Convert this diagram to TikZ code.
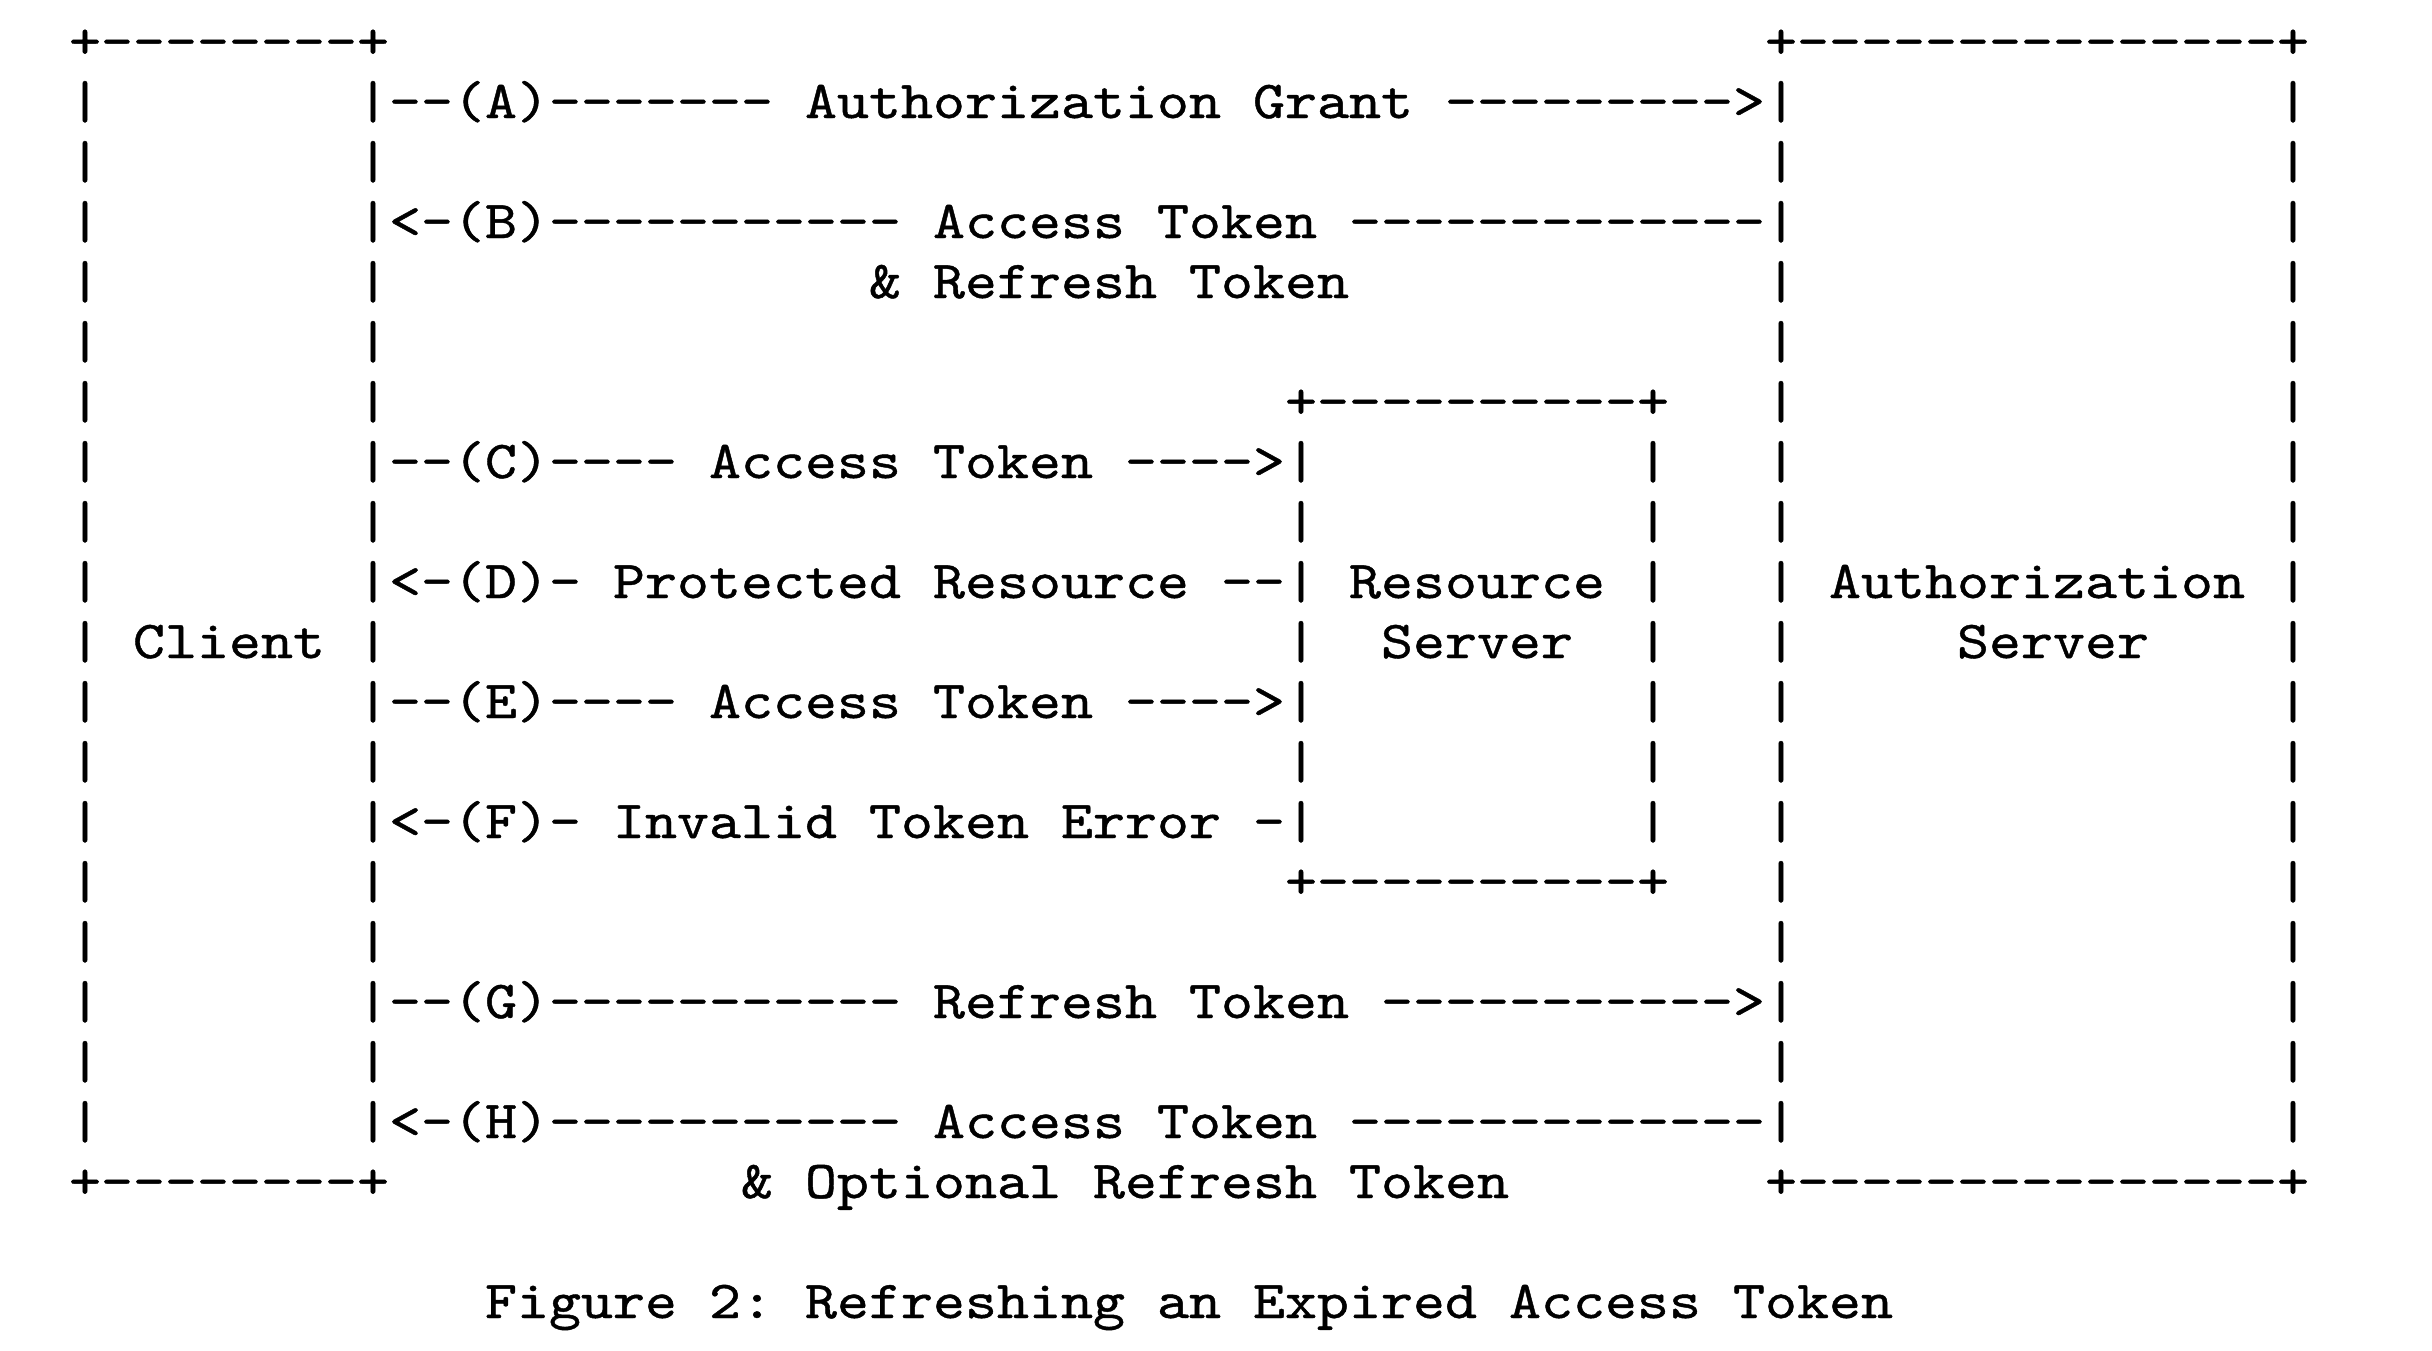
\documentclass[tikz,border=0pt]{standalone}
\usepackage{fontspec}
\newfontfamily\asciifont{lmmono10-regular.otf}[FakeStretch=1.1429,FakeBold=0.8,Ligatures=TeXOff]
\tikzset{ascii/.style={anchor=base west,inner sep=0pt,outer sep=0pt,
  font=\asciifont\fontsize{13.333pt}{15pt}\selectfont\frenchspacing,text=black}}
\newcommand\asc[4]{\node[ascii] (#1) at ({17.25pt+8pt*(#2)},{-14.5pt-15pt*(#3)}) {#4};}
\begin{document}
\begin{tikzpicture}
\fill[white] (0,0) rectangle (608pt,-337.5pt);
\useasboundingbox (0,0) rectangle (608pt,-337.5pt);
% box borders
\asc{clientTop}{0}{0}{+--------+}
\asc{authTop}{53}{0}{+---------------+}
\asc{clientBot}{0}{19}{+--------+}
\asc{authBot}{53}{19}{+---------------+}
\asc{resTop}{38}{6}{+----------+}
\asc{resBot}{38}{14}{+----------+}
\foreach \r in {1,...,18}{
  \asc{cl\r}{0}{\r}{|}
  \asc{cr\r}{9}{\r}{|}
  \asc{al\r}{53}{\r}{|}
  \asc{ar\r}{69}{\r}{|}
}
\foreach \r in {7,...,13}{
  \asc{rl\r}{38}{\r}{|}
  \asc{rr\r}{49}{\r}{|}
}
% labels
\asc{client}{2}{10}{Client}
\asc{res1}{40}{9}{Resource}
\asc{res2}{41}{10}{Server}
\asc{auth1}{55}{9}{Authorization}
\asc{auth2}{59}{10}{Server}
% messages
\asc{msgA}{10}{1}{--(A)------- Authorization Grant --------->}
\asc{msgB}{10}{3}{<-(B)----------- Access Token -------------}
\asc{msgB2}{25}{4}{\& Refresh Token}
\asc{msgC}{10}{7}{--(C)---- Access Token ---->}
\asc{msgD}{10}{9}{<-(D)- Protected Resource --}
\asc{msgE}{10}{11}{--(E)---- Access Token ---->}
\asc{msgF}{10}{13}{<-(F)- Invalid Token Error -}
\asc{msgG}{10}{16}{--(G)----------- Refresh Token ----------->}
\asc{msgH}{10}{18}{<-(H)----------- Access Token -------------}
\asc{msgH2}{21}{19}{\& Optional Refresh Token}
% caption
\asc{caption}{13}{21}{Figure 2: Refreshing an Expired Access Token}
\end{tikzpicture}
\end{document}
